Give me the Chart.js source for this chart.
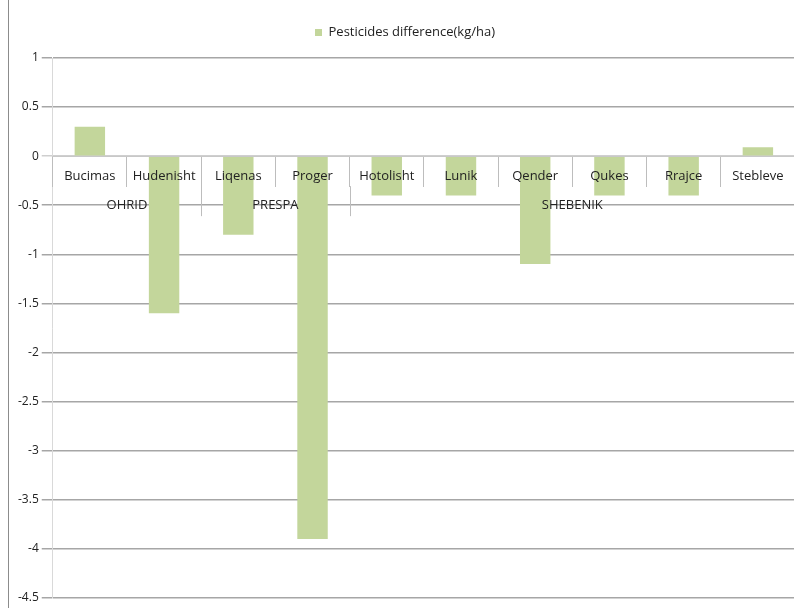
<!DOCTYPE html>
<html>
<head>
<meta charset="utf-8">
<script src="https://cdn.jsdelivr.net/npm/chart.js@4.4.1/dist/chart.umd.min.js"></script>
<style>
  html, body { margin: 0; padding: 0; background: #fff; }
  #wrap { position: absolute; left: 8px; top: 0; width: 786px; height: 608px; border-left: 1px solid #8c8c8c; }
</style>
</head>
<body>
<div id="wrap"><canvas id="chart"></canvas></div>
<script>
// data
const villages = ['Bucimas', 'Hudenisht', 'Liqenas', 'Proger', 'Hotolisht', 'Lunik', 'Qender', 'Qukes', 'Rrajce', 'Stebleve'];
const pesticidesDiff = [0.3, -1.6, -0.8, -3.9, -0.4, -0.4, -1.1, -0.4, -0.4, 0.09];
const regions = ['OHRID', 'PRESPA', 'SHEBENIK'];
const regionSizes = [2, 2, 6];

const barColor = '#c3d69b';
const fontFamily = '"Open Sans", Lato, sans-serif';

// extra room under the legend
const legendGap = {
  id: 'legendGap',
  beforeInit(chart) {
    const fit = chart.legend.fit;
    chart.legend.fit = function () {
      fit.bind(chart.legend)();
      this.height += 9;
    };
  }
};

// second row of category labels (regions), with longer dividers
const regionPlugin = {
  id: 'regionLabels',
  afterDatasetsDraw(chart) {
    const ctx = chart.ctx;
    const x = chart.scales.x;
    const y = chart.scales.y;
    const zeroY = y.getPixelForValue(0);
    const half = (x.getPixelForValue(1) - x.getPixelForValue(0)) / 2;
    ctx.save();
    ctx.font = '13px ' + fontFamily;
    ctx.fillStyle = '#222';
    ctx.textAlign = 'center';
    ctx.textBaseline = 'middle';
    let idx = 0;
    regions.forEach((name, i) => {
      const start = x.getPixelForValue(idx) - half;
      const end = x.getPixelForValue(idx + regionSizes[i] - 1) + half;
      ctx.fillText(name, (start + end) / 2, zeroY + 49);
      idx += regionSizes[i];
      if (i < regions.length - 1) {
        ctx.strokeStyle = '#bdbdbd';
        ctx.lineWidth = 1;
        ctx.beginPath();
        ctx.moveTo(Math.round(end) + 0.5, zeroY + 30);
        ctx.lineTo(Math.round(end) + 0.5, zeroY + 60);
        ctx.stroke();
      }
    });
    ctx.restore();
  }
};

new Chart(document.getElementById('chart'), {
  type: 'bar',
  data: {
    labels: villages,
    datasets: [{
      label: 'Pesticides difference(kg/ha)',
      data: pesticidesDiff,
      backgroundColor: barColor,
      borderWidth: 0,
      barPercentage: 0.41,
      categoryPercentage: 1
    }]
  },
  options: {
    responsive: true,
    maintainAspectRatio: false,
    animation: false,
    layout: { padding: { top: 16, left: 6, right: 0, bottom: 4 } },
    plugins: {
      tooltip: { enabled: false },
      legend: {
        position: 'top',
        labels: {
          boxWidth: 7,
          boxHeight: 7,
          padding: 10,
          color: '#222',
          font: { family: fontFamily, size: 13 }
        }
      }
    },
    scales: {
      x: {
        position: { y: 0 },
        offset: true,
        grid: {
          offset: true,
          drawOnChartArea: false,
          drawTicks: true,
          tickLength: 30,
          color: '#bdbdbd',
          z: 1
        },
        border: { display: true, color: '#c8c8c8', z: 1 },
        ticks: {
          z: 1,
          padding: -18,
          color: '#222',
          maxRotation: 0,
          autoSkip: false,
          font: { family: fontFamily, size: 13 }
        }
      },
      y: {
        min: -4.5,
        max: 1,
        grid: {
          color: (c) => c.tick && c.tick.value === 0 ? '#cfcfcf' : '#a6a6a6',
          lineWidth: 1.5,
          tickLength: 11
        },
        border: { display: true, color: '#d9d9d9' },
        ticks: {
          stepSize: 0.5,
          padding: 3,
          color: '#222',
          font: { family: fontFamily, size: 12 },
          callback: (v) => String(+Number(v).toFixed(1))
        }
      }
    }
  },
  plugins: [legendGap, regionPlugin]
});
</script>
</body>
</html>
